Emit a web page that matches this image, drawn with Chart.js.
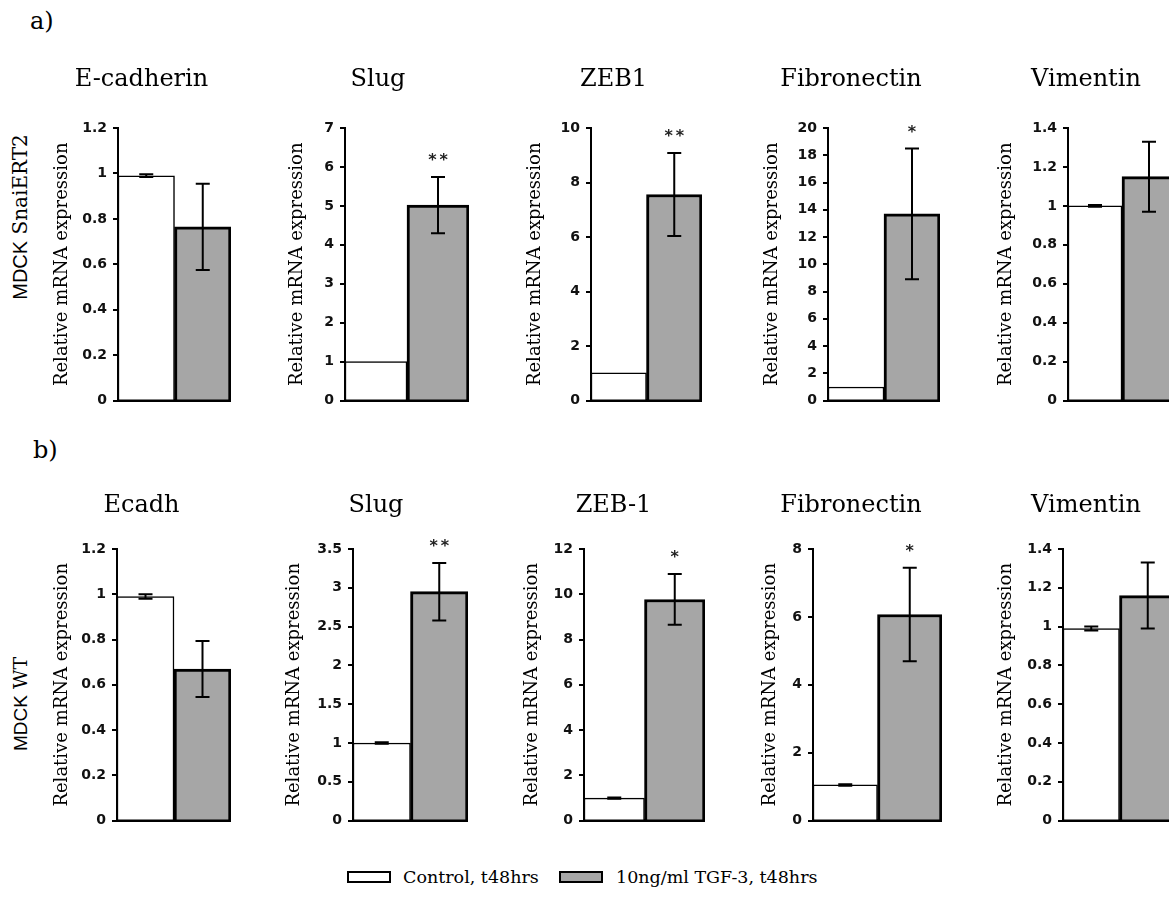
<!DOCTYPE html>
<html>
<head>
<meta charset="utf-8">
<script src="https://cdn.jsdelivr.net/npm/chart.js@4.4.1/dist/chart.umd.min.js"></script>
<style>
  html, body { margin: 0; padding: 0; overflow: hidden; background: #fff; }
  body { width: 1169px; height: 899px; position: relative; }
  canvas { position: absolute; }
  .lbl { position: absolute; font-family: 'DejaVu Serif', serif; color: #000; white-space: nowrap; line-height: 1; }
  .rot { transform: translate(-50%, -50%) rotate(-90deg); }
  .sans { font-family: 'Liberation Sans', sans-serif; }
  .box { position: absolute; border: 2px solid #000; width: 40px; height: 8px; }
</style>
</head>
<body>
<div class="lbl" style="left:30px;top:9px;font-size:24px">a)</div>
<div class="lbl" style="left:33px;top:438px;font-size:24px">b)</div>
<div class="lbl rot" style="left:20px;top:217px;font-size:20px"><span class="sans">MDCK</span> SnaiERT2</div>
<div class="lbl rot" style="left:20px;top:704px;font-size:19px"><span class="sans">MDCK</span> WT</div>

<div class="box" style="left:347px;top:871px;background:#fff"></div>
<div class="lbl" id="leg0" style="left:403px;top:869px;font-size:17.5px"></div>
<div class="box" style="left:559px;top:871px;background:#a6a6a6"></div>
<div class="lbl" id="leg1" style="left:616px;top:869px;font-size:17.5px"></div>

<script>
// legend groups
const groups = ['Control, t48hrs', '10ng/ml TGF-3, t48hrs'];

// a) MDCK SnaiERT2
const topTitles = ['E-cadherin', 'Slug', 'ZEB1', 'Fibronectin', 'Vimentin'];
const topControl = [0.99, 1.0, 1.02, 1.0, 1.0];
const topControlErr = [0.006, 0, 0, 0, 0.004];
const topTgf = [0.765, 5.02, 7.56, 13.7, 1.15];
const topTgfErr = [0.19, 0.72, 1.52, 4.8, 0.18];
const topStars = ['', '**', '**', '*', ''];
const topMax = [1.2, 7, 10, 20, 1.4];
const topStep = [0.2, 1, 2, 2, 0.2];

// b) MDCK WT
const bottomTitles = ['Ecadh', 'Slug', 'ZEB-1', 'Fibronectin', 'Vimentin'];
const bottomControl = [0.99, 1.0, 0.99, 1.05, 0.99];
const bottomControlErr = [0.01, 0.01, 0.03, 0.02, 0.01];
const bottomTgf = [0.67, 2.95, 9.77, 6.07, 1.16];
const bottomTgfErr = [0.124, 0.37, 1.12, 1.38, 0.17];
const bottomStars = ['', '**', '*', '*', ''];
const bottomMax = [1.2, 3.5, 12, 8, 1.4];
const bottomStep = [0.2, 0.5, 2, 2, 0.2];

const yTitle = 'Relative mRNA expression';

// panel placement (pixels)
const rows = [
  { titleY: 80, top: 128, bottom: 403,
    yTitleX: [62, 297, 535, 772, 1006], axisX: [118, 345, 591, 828, 1068], right: [231, 469, 702, 940, 1176],
    titles: topTitles, control: topControl, controlErr: topControlErr, tgf: topTgf, tgfErr: topTgfErr,
    stars: topStars, max: topMax, step: topStep },
  { titleY: 506, top: 549, bottom: 823,
    yTitleX: [62, 294, 532, 770, 1006], axisX: [117, 353, 584, 813, 1063], right: [231, 468, 705, 942, 1176],
    titles: bottomTitles, control: bottomControl, controlErr: bottomControlErr, tgf: bottomTgf, tgfErr: bottomTgfErr,
    stars: bottomStars, max: bottomMax, step: bottomStep }
];

document.getElementById('leg0').textContent = groups[0];
document.getElementById('leg1').textContent = groups[1];

Chart.defaults.color = '#000';
Chart.defaults.animation = false;

const errorBars = {
  id: 'errorBars',
  afterDatasetsDraw(chart) {
    const { ctx } = chart;
    const y = chart.scales.y;
    const ds = chart.data.datasets[0];
    const meta = chart.getDatasetMeta(0);
    ctx.save();
    ctx.strokeStyle = '#000';
    ctx.lineWidth = 2;
    meta.data.forEach((bar, j) => {
      const e = ds.errs[j];
      const v = ds.data[j];
      if (e) {
        const yt = y.getPixelForValue(v + e), yb = y.getPixelForValue(v - e);
        ctx.beginPath();
        ctx.moveTo(bar.x, yt); ctx.lineTo(bar.x, yb);
        ctx.moveTo(bar.x - 7, yt); ctx.lineTo(bar.x + 7, yt);
        ctx.moveTo(bar.x - 7, yb); ctx.lineTo(bar.x + 7, yb);
        ctx.stroke();
      }
      if (ds.stars[j]) {
        ctx.fillStyle = '#222';
        ctx.font = 'bold 16px "DejaVu Sans"';
        ctx.letterSpacing = '3px';
        ctx.textAlign = 'center';
        ctx.textBaseline = 'middle';
        ctx.fillText(ds.stars[j], bar.x + 1.5, y.getPixelForValue(v + e) - 16);
      }
    });
    ctx.restore();
  }
};

function makePanel(row, i) {
  const titleSize = 24, titleLH = 30;
  const axisTitleSize = 18, axisTitleLH = 20;
  const left = row.yTitleX[i] - axisTitleLH / 2;
  const canvasTop = row.titleY - titleLH / 2;
  const xBox = 12;
  const w = row.right[i] - left;
  const h = row.bottom - canvasTop + xBox;
  const c = document.createElement('canvas');
  c.width = w; c.height = h;
  c.style.left = left + 'px'; c.style.top = canvasTop + 'px';
  c.style.width = w + 'px'; c.style.height = h + 'px';
  document.body.appendChild(c);

  new Chart(c, {
    type: 'bar',
    data: {
      labels: groups,
      datasets: [{
        data: [row.control[i], row.tgf[i]],
        errs: [row.controlErr[i], row.tgfErr[i]],
        stars: ['', row.stars[i]],
        backgroundColor: ['#ffffff', '#a6a6a6'],
        borderColor: '#000',
        borderWidth: [1.5, 3],
        borderSkipped: 'start',
        barPercentage: 1,
        categoryPercentage: 1
      }]
    },
    options: {
      responsive: false,
      devicePixelRatio: 1,
      layout: { padding: 0 },
      plugins: {
        legend: { display: false },
        tooltip: { enabled: false },
        title: {
          display: true,
          text: row.titles[i],
          font: { family: 'DejaVu Serif', size: titleSize, weight: 'normal', lineHeight: titleLH + 'px' },
          padding: { top: 0, bottom: row.top - canvasTop - titleLH }
        }
      },
      scales: {
        x: {
          ticks: { display: false },
          grid: { display: false },
          border: { display: true, color: '#000', width: 3 },
          afterFit: s => { s.height = xBox; }
        },
        y: {
          min: 0,
          max: row.max[i],
          ticks: {
            stepSize: row.step[i],
            padding: 6,
            color: '#111',
            font: { family: 'DejaVu Sans', size: 14, weight: 'bold' },
            callback: v => String(+v.toFixed(2))
          },
          grid: { display: true, drawOnChartArea: false, drawTicks: true, tickLength: 5, color: '#000', lineWidth: 2 },
          border: { display: true, color: '#000', width: 2 },
          title: {
            display: true,
            text: yTitle,
            padding: 0,
            font: { family: 'DejaVu Serif', size: axisTitleSize, lineHeight: axisTitleLH + 'px' }
          },
          afterFit: s => { s.width = row.axisX[i] - left; }
        }
      }
    },
    plugins: [errorBars]
  });
}

rows.forEach(row => row.titles.forEach((_, i) => makePanel(row, i)));
</script>
</body>
</html>
